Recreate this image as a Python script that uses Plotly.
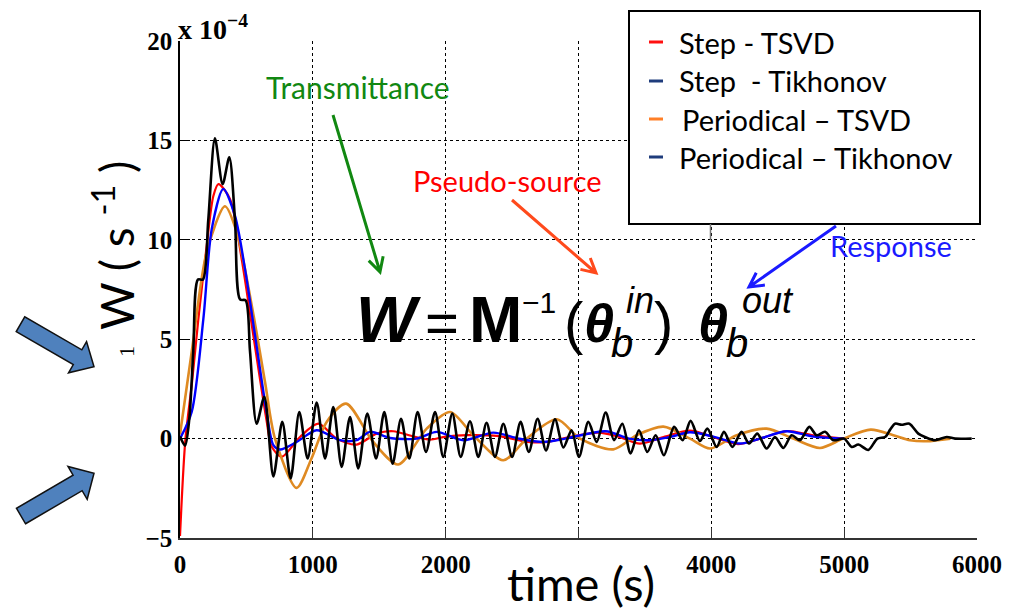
import math
import plotly.graph_objects as go

# ---------------- data (values in units of 1e-4 s^-1) ----------------
black_t = [0, 38, 70, 100, 135, 173, 213, 263, 321, 371, 414, 452, 494, 527, 577, 635, 703, 770, 833, 898,
           961, 1029, 1092, 1154, 1217, 1280, 1342, 1410, 1476, 1538, 1601, 1664, 1726, 1789, 1852, 1920,
           1982, 2050, 2113, 2183, 2246, 2308, 2371, 2434, 2500, 2564, 2626, 2692, 2755, 2823, 2886, 2948,
           3004, 3074, 3137, 3205, 3267, 3330, 3392, 3455, 3518, 3581, 3643, 3720, 3784, 3844, 3914, 3970,
           4040, 4095, 4158, 4228, 4284, 4346, 4416, 4479, 4542, 4605, 4667, 4738, 4793, 4856, 4918, 5000,
           5057, 5107, 5182, 5250, 5308, 5346, 5383, 5433, 5491, 5558, 5609, 5684, 5772, 5835, 5960]
black_w = [0.1, -0.35, 1.0, 4.4, 8.0, 8.0, 11.0, 15.1, 12.8, 14.15, 11.0, 7.0, 6.95, 4.4, 0.75, 2.1, -1.9, 0.84,
           -2.0, 1.34, -1.0, 1.81, -1.0, 1.59, -1.42, 1.09, -1.5, 1.26, -1.0, 1.34, -1.26, 1.0, -1.0, 1.34,
           -0.67, 1.34, -0.92, 1.26, -0.92, 0.87, -0.92, 0.8, -0.92, 0.75, -0.92, 0.84, -0.67, 1.0, -0.59,
           0.97, -0.45, 0.42, -0.92, 0.84, -0.17, 1.31, -0.08, 0.75, -0.75, 0.42, -0.67, 0.17, -0.84, 0.59,
           -0.08, 0.89, -0.12, 0.5, -0.42, 0.34, -0.42, 0.34, -0.25, 0.25, -0.5, 0.08, -0.47, 0.17, -0.08,
           0.59, 0.17, 0.34, -0.08, 0.0, -0.42, -0.3, -0.57, 0.0, 0.08, 0.45, 0.75, 0.7, 0.75, 0.25, 0.08,
           -0.08, 0.08, 0.0, 0.0]

red_t = [0, 40, 90, 138, 201, 251, 289, 376, 464, 552, 652, 690, 765, 903, 1041, 1180, 1330, 1480, 1606, 1760,
         1882, 2000, 2160, 2400, 2600, 2750, 2950, 3150, 3300, 3463, 3650, 3839, 4015, 4200, 4366, 4567, 4768, 5000]
red_w = [-4.9, -0.1, 2.8, 6.0, 9.7, 12.2, 12.8, 12.06, 9.05, 5.19, 0.9, -0.4, -0.92, 0.08, 0.75, 0.0, -0.3,
         0.25, 0.37, 0.1, -0.05, 0.1, 0.17, 0.12, -0.15, -0.18, 0.1, 0.3, 0.1, -0.25, 0.1, 0.4, 0.08, -0.28,
         0.0, 0.38, 0.17, 0.0]

blue_t = [0, 88, 176, 239, 326, 414, 489, 565, 652, 703, 753, 878, 1029, 1205, 1330, 1430, 1581, 1782, 1932,
          2133, 2358, 2550, 2735, 2900, 3205, 3380, 3539, 3700, 3839, 4015, 4216, 4366, 4567, 4768, 5000]
blue_w = [0.0, 1.34, 6.03, 10.55, 12.56, 11.2, 8.54, 5.19, 1.34, -0.33, -0.55, -0.17, 0.42, -0.08, -0.08, 0.34,
          0.03, 0.0, 0.34, -0.08, 0.3, 0.0, -0.17, 0.0, 0.37, 0.0, -0.08, 0.1, 0.32, 0.1, -0.25, 0.0, 0.37,
          0.1, 0.0]

orange_t = [0, 88, 201, 339, 427, 540, 640, 715, 878, 990, 1104, 1250, 1455, 1643, 1857, 2033, 2208, 2434,
            2610, 2836, 3012, 3262, 3438, 3639, 3839, 3990, 4191, 4416, 4617, 4818, 4993, 5200, 5370, 5496,
            5621, 5800]
orange_w = [0.2, 4.36, 9.38, 11.69, 10.39, 6.7, 2.85, 0.0, -2.48, -1.0, 0.84, 1.76, -0.17, -1.3, 0.5, 1.34,
            0.17, -1.09, 0.0, 0.97, 0.0, -0.54, 0.17, 0.6, 0.0, -0.5, 0.17, 0.5, 0.0, -0.47, 0.0, 0.45, 0.17,
            -0.08, -0.13, 0.0]

legend_names = ["Step - TSVD", "Step  - Tikhonov", "Periodical \u2013 TSVD", "Periodical \u2013 Tikhonov"]
legend_colors = ["#FF1010", "#1F3C7C", "#FF7F27", "#1F3C7C"]

x_ticks = [0, 1000, 2000, 3000, 4000, 5000, 6000]
x_tick_labels = ["0", "1000", "2000", "", "4000", "5000", "6000"]
y_ticks = [-5, 0, 5, 10, 15, 20]

# ---------------- layout helpers (pixel -> paper) ----------------
W_PX, H_PX = 1018, 611
L, R, T, B = 180, 41, 41, 73
PW, PH = W_PX - L - R, H_PX - T - B


def px(x, y):
    return ((x - L) / PW, (H_PX - B - y) / PH)


def path_from(points, close=True):
    s = ""
    for i, (x, y) in enumerate(points):
        a, b = px(x, y)
        s += ("M" if i == 0 else "L") + f"{a:.5f},{b:.5f} "
    return s + ("Z" if close else "")


def block_arrow(tail, tip, sw, hw, hl):
    dx, dy = tip[0] - tail[0], tip[1] - tail[1]
    n = math.hypot(dx, dy)
    ux, uy = dx / n, dy / n
    nx, ny = -uy, ux
    bx, by = tip[0] - ux * hl, tip[1] - uy * hl
    pts = [(tail[0] + nx * sw / 2, tail[1] + ny * sw / 2), (bx + nx * sw / 2, by + ny * sw / 2),
           (bx + nx * hw / 2, by + ny * hw / 2), tip, (bx - nx * hw / 2, by - ny * hw / 2),
           (bx - nx * sw / 2, by - ny * sw / 2), (tail[0] - nx * sw / 2, tail[1] - ny * sw / 2)]
    return path_from(pts)


def line_arrow(start, tip, hl=16, ang=28):
    dx, dy = start[0] - tip[0], start[1] - tip[1]
    n = math.hypot(dx, dy)
    ux, uy = dx / n, dy / n
    a = math.radians(ang)
    p1 = (tip[0] + hl * (ux * math.cos(a) - uy * math.sin(a)), tip[1] + hl * (ux * math.sin(a) + uy * math.cos(a)))
    p2 = (tip[0] + hl * (ux * math.cos(-a) - uy * math.sin(-a)), tip[1] + hl * (ux * math.sin(-a) + uy * math.cos(-a)))
    return path_from([start, tip], close=False) + " " + path_from([p1, tip, p2], close=False)


fig = go.Figure()
fig.add_trace(go.Scatter(x=red_t, y=red_w, mode="lines", line=dict(color="#FF0000", width=2.2, shape="spline", smoothing=0.8)))
fig.add_trace(go.Scatter(x=orange_t, y=orange_w, mode="lines", line=dict(color="#DF8A22", width=2.6, shape="spline", smoothing=0.8)))
fig.add_trace(go.Scatter(x=blue_t, y=blue_w, mode="lines", line=dict(color="#0000FF", width=2.4, shape="spline", smoothing=0.8)))
fig.add_trace(go.Scatter(x=black_t, y=black_w, mode="lines", line=dict(color="#000000", width=2.6, shape="spline", smoothing=0.8)))

shapes = []
annotations = []

# legend box
x0, y0 = px(629, 11)
x1, y1 = px(980, 224)
shapes.append(dict(type="rect", xref="paper", yref="paper", x0=x0, y0=y1, x1=x1, y1=y0,
                   line=dict(color="black", width=2), fillcolor="white", layer="above"))
leg_y = [42, 81, 119, 157]
leg_tx = [677, 677, 680, 677]
for name, col, yy, tx in zip(legend_names, legend_colors, leg_y, leg_tx):
    shapes.append(dict(type="path", xref="paper", yref="paper", path=path_from([(649, yy), (663, yy)], close=False),
                       line=dict(color=col, width=3), layer="above"))
    ax, ay = px(tx, yy)
    annotations.append(dict(xref="paper", yref="paper", x=ax, y=ay, xanchor="left", yanchor="middle",
                            text=name, showarrow=False, font=dict(family="Lato", size=29, color="black")))

# small grey line peeking below the legend
shapes.append(dict(type="path", xref="paper", yref="paper", path=path_from([(710.5, 224), (710.5, 240)], close=False),
                   line=dict(color="#777777", width=1.5), layer="above"))

# blue block arrows on the left
shapes.append(dict(type="path", xref="paper", yref="paper", path=block_arrow((20.5, 324.2), (94, 366.7), 17, 36, 19),
                   fillcolor="#4F81BD", line=dict(color="#111111", width=1.5), layer="above"))
shapes.append(dict(type="path", xref="paper", yref="paper", path=block_arrow((21, 516), (94, 473.3), 18, 38, 19),
                   fillcolor="#4F81BD", line=dict(color="#111111", width=1.5), layer="above"))

# pointer arrows
shapes.append(dict(type="path", xref="paper", yref="paper", path=line_arrow((333, 115), (380, 272)),
                   line=dict(color="#118811", width=3), layer="above"))
shapes.append(dict(type="path", xref="paper", yref="paper", path=line_arrow((512, 200), (596, 273)),
                   line=dict(color="#FF4A1C", width=3), layer="above"))
shapes.append(dict(type="path", xref="paper", yref="paper", path=line_arrow((836, 226), (749, 287)),
                   line=dict(color="#1A1AFF", width=3), layer="above"))


def txt(x, y, text, size, color="black", family="Lato", xanchor="center", angle=0, yanchor="middle"):
    a, b = px(x, y)
    annotations.append(dict(xref="paper", yref="paper", x=a, y=b, xanchor=xanchor, yanchor=yanchor,
                            text=text, showarrow=False, textangle=angle, borderpad=0,
                            font=dict(family=family, size=size, color=color)))


txt(358, 87, "Transmittance", 30, "#118811")
txt(507, 181, "Pseudo-source", 29, "#FF0000")
txt(891, 245, "Response", 29, "#1A1AFF")

# equation pieces
eq = "Liberation Sans"
txt(388, 320, "<b><i>W</i></b>", 64, family=eq)
txt(442, 322, "=", 58, family=eq)
txt(495, 320, "<b>M</b>", 64, family=eq)
txt(539, 302, "\u22121", 30, family=eq)
txt(573, 322, "(", 58, family=eq)
txt(599, 323, "<b><i>\u03b8</i></b>", 54, family=eq)
txt(622, 343, "<i>b</i>", 40, family=eq)
txt(640, 300, "<i>in</i>", 36, family=eq)
txt(663, 322, ")", 58, family=eq)
txt(713, 323, "<b><i>\u03b8</i></b>", 54, family=eq)
txt(737, 343, "<i>b</i>", 40, family=eq)
txt(768, 300, "<i>out</i>", 36, family=eq)

# axis titles & exponent
txt(581, 583, "time (s)", 47)
txt(113, 246, "W ( s <sup>-1</sup> )", 46, angle=-90)
txt(126, 352, "1", 22, family="Liberation Serif", angle=-90)
txt(177, 27, "<b>x 10<sup>\u22124</sup></b>", 28, family="Liberation Serif", xanchor="left")

fig.update_layout(
    width=W_PX, height=H_PX,
    margin=dict(l=L, r=R, t=T, b=B, pad=0, autoexpand=False),
    paper_bgcolor="white", plot_bgcolor="white",
    showlegend=False,
    shapes=shapes, annotations=annotations,
)
fig.update_xaxes(range=[0, 6000], tickvals=x_ticks, ticktext=x_tick_labels, automargin=False,
                 showgrid=True, gridcolor="black", griddash="dot", gridwidth=1, zeroline=False,
                 showline=True, linecolor="#333333", linewidth=1.5, ticks="inside", ticklen=10,
                 tickcolor="#333333", ticklabelstandoff=3,
                 tickfont=dict(family="Liberation Serif", size=25, color="black", weight="bold"))
fig.update_yaxes(range=[-5, 20], tickvals=y_ticks, automargin=False,
                 showgrid=True, gridcolor="black", griddash="dot", gridwidth=1, zeroline=False,
                 showline=True, linecolor="black", linewidth=1.5, ticks="inside", ticklen=10,
                 tickcolor="black", ticklabelstandoff=1,
                 tickfont=dict(family="Liberation Serif", size=25, color="black", weight="bold"))

fig.write_html("out.html", config={"displayModeBar": False},
               post_script="document.body.style.margin='0';document.body.style.overflow='hidden';")
